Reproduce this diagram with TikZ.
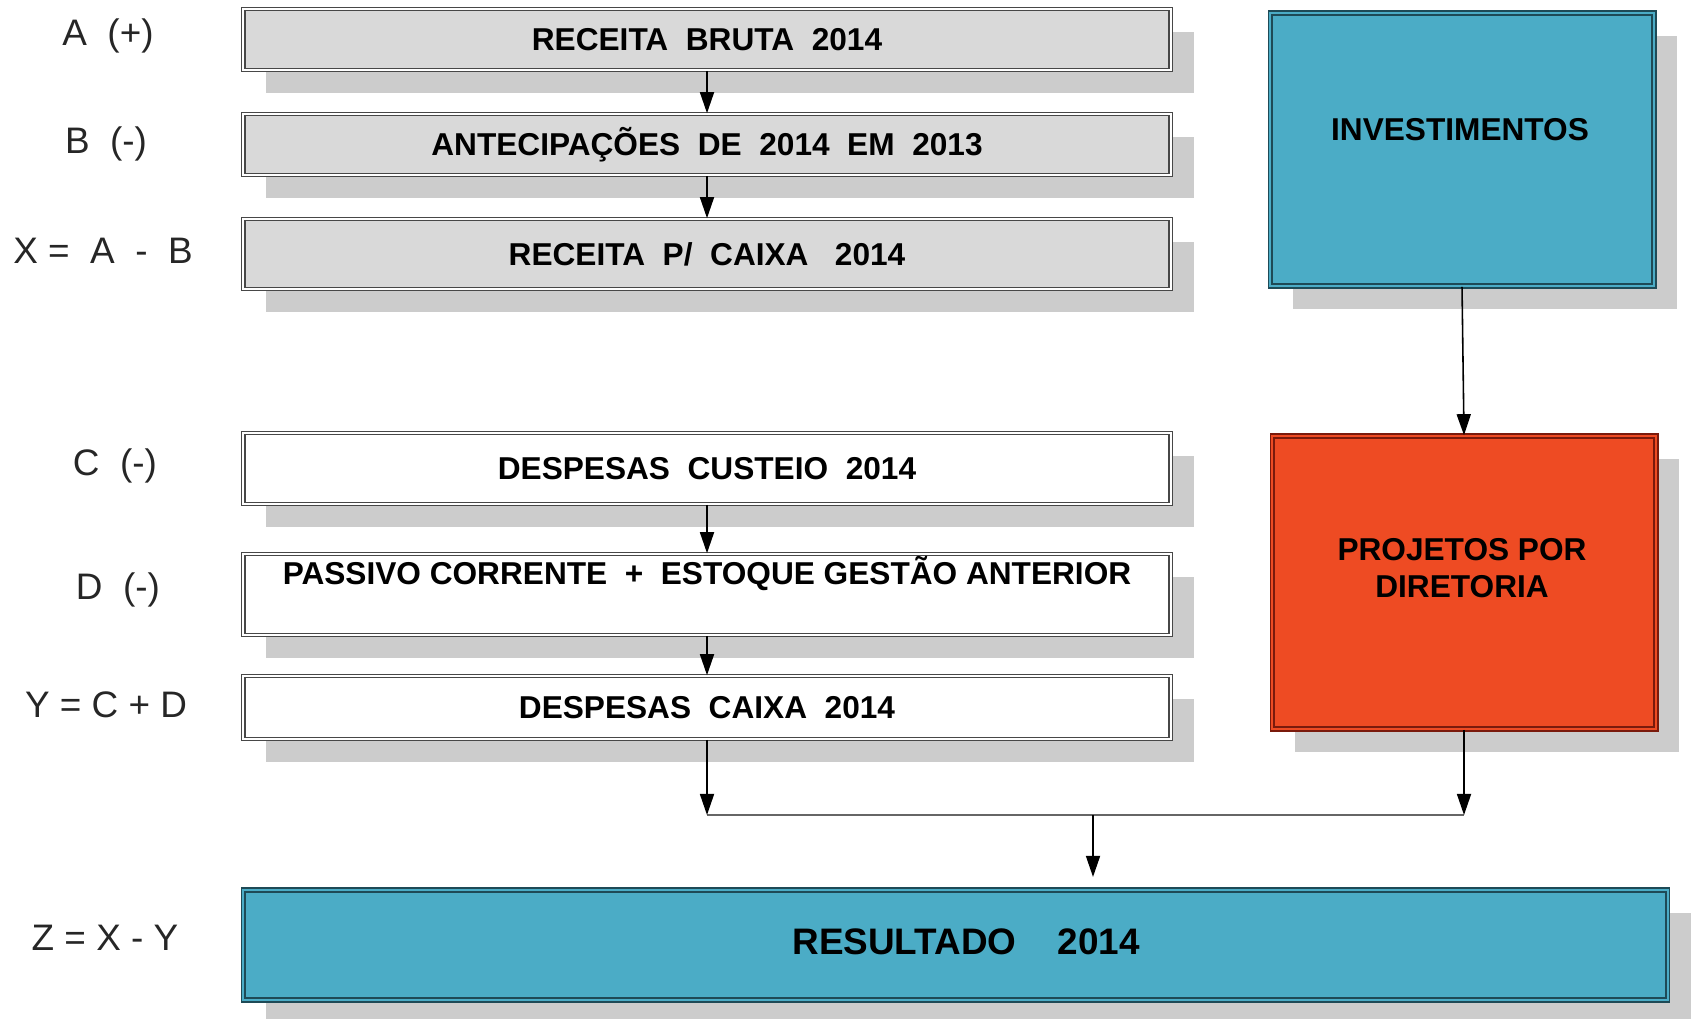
\documentclass[tikz,border=0pt]{standalone}
\usepackage{fontspec}
\setmainfont{Liberation Sans}
\usetikzlibrary{arrows.meta,shadows}
\definecolor{boxgray}{HTML}{D9D9D9}
\definecolor{shgray}{HTML}{CCCCCC}
\definecolor{tealblue}{HTML}{4BACC6}
\definecolor{tealdark}{HTML}{1E4A56}
\definecolor{redor}{HTML}{EE4B23}
\definecolor{reddark}{HTML}{7A1A0C}
\tikzset{
  shad/.style={drop shadow={shadow xshift=0.46cm,shadow yshift=-0.46cm,fill=shgray,opacity=1}},
  boxfont/.style={font=\fontsize{18}{21}\selectfont\bfseries},
  flowbox/.style={rectangle, shad, draw=black!72, line width=0.9pt, double=white,
    double distance=1.0pt, minimum width=18.56cm, inner sep=0pt, boxfont},
  graybox/.style={flowbox, fill=boxgray},
  whitebox/.style={flowbox, fill=white},
  bluebox/.style={rectangle, shad, fill=tealblue, draw=tealdark, line width=0.9pt,
    double=tealblue, double distance=1.1pt, inner sep=0pt},
  redbox/.style={rectangle, shad, fill=redor, draw=reddark, line width=0.9pt,
    double=redor, double distance=1.1pt, inner sep=0pt},
  boxtxt/.style={inner sep=0pt, boxfont, align=center},
  lbl/.style={inner sep=0pt, font=\fontsize{21}{25}\selectfont, text=black!85},
  conn/.style={-{Triangle[length=12pt,width=8pt]}, line width=0.9pt, black},
  plain/.style={line width=1.1pt, black!60},
}
\begin{document}
\begin{tikzpicture}[x=0.02cm,y=-0.02cm]
\useasboundingbox (0,0) rectangle (1692,1018);
% left column
\node[graybox, minimum height=1.22cm] (b1) at (707,39.5) {RECEITA\ \ BRUTA\ \ 2014};
\node[graybox, minimum height=1.22cm] (b2) at (707,144.5) {ANTECIPAÇÕES\ \ DE\ \ 2014\ \ EM\ \ 2013};
\node[graybox, minimum height=1.4cm] (b3) at (707,254) {RECEITA\ \ P/\ \ CAIXA\ \ \ 2014};
\node[whitebox, minimum height=1.42cm] (b4) at (707,468.5) {DESPESAS\ \ CUSTEIO\ \ 2014};
\node[whitebox, minimum height=1.62cm] (b5) at (707,594.5) {};
\node[boxtxt] (b5t) at (707,574) {PASSIVO CORRENTE\ \ +\ \ ESTOQUE GESTÃO ANTERIOR};
\node[whitebox, minimum height=1.26cm] (b6) at (707,707.5) {DESPESAS\ \ CAIXA\ \ 2014};
% right column
\node[bluebox, minimum width=7.68cm, minimum height=5.46cm] (inv) at (1462,149.5) {};
\node[boxtxt] (invt) at (1460,130) {INVESTIMENTOS};
\node[redbox, minimum width=7.68cm, minimum height=5.86cm] (proj) at (1464,582.5) {};
\node[boxtxt] (projt) at (1462,568.5) {PROJETOS POR\\DIRETORIA};
% result
\node[bluebox, minimum width=28.5cm, minimum height=2.2cm] (res) at (955.5,945) {};
\node[inner sep=0pt, font=\fontsize{21}{25}\selectfont\bfseries] (rest) at (966,942) {RESULTADO\ \ \ \ 2014};
% labels
\node[lbl] (la) at (108,36) {A\ \ (+)};
\node[lbl] (lb) at (106,144) {B\ \ (-)};
\node[lbl] (lx) at (103,251) {X =\ \ A\ \ -\ \ B};
\node[lbl] (lc) at (115,466) {C\ \ (-)};
\node[lbl] (ld) at (118,590) {D\ \ (-)};
\node[lbl] (ly) at (106,705) {Y = C + D};
\node[lbl] (lz) at (105,938) {Z = X - Y};
% connectors
\coordinate (j1) at (707,815);
\coordinate (j2) at (1464,815);
\coordinate (jm) at (1093,815);
\draw[conn] (b1.south) -- (b2.north);
\draw[conn] (b2.south) -- (b3.north);
\draw[conn] (b4.south) -- (b5.north);
\draw[conn] (b5.south) -- (b6.north);
\draw[conn] (inv.south) -- (proj.north);
\draw[plain] (j1) -- (j2);
\draw[conn] (b6.south) -- (j1);
\draw[conn] (proj.south) -- (j2);
\draw[conn] (jm) -- ([yshift=7pt]jm |- res.north);
\end{tikzpicture}
\end{document}
